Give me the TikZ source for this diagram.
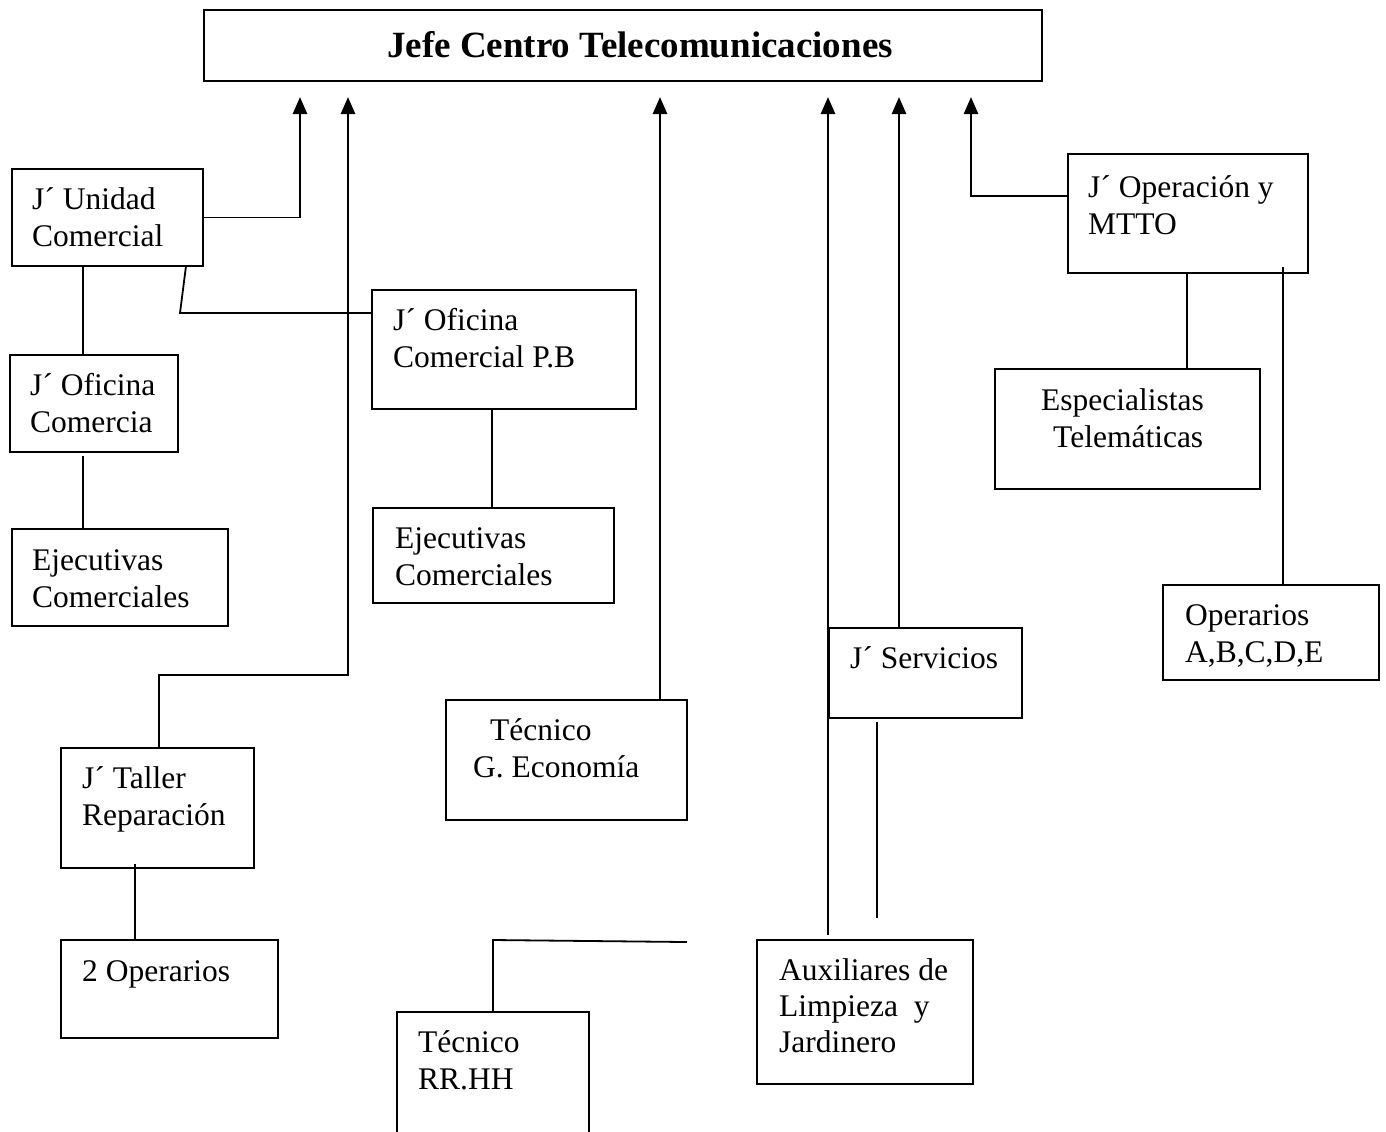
\documentclass[tikz,border=0pt]{standalone}
\usepackage{fontspec}
\setmainfont{Liberation Serif}
\usetikzlibrary{arrows.meta}
% multi-line labels whose reference point is the first baseline
\newcommand\twolines[2]{\vtop{\hbox{#1}\hbox{#2}}}
\newcommand\threelines[3]{\vtop{\hbox{#1}\hbox{#2}\hbox{#3}}}
\begin{document}
\begin{tikzpicture}[x=1bp,y=-1bp,
  orgbox/.style={draw,rectangle,line width=1.8bp,inner sep=0,outer sep=0,anchor=north west},
  lbl/.style={anchor=base west,inner sep=0,font=\fontsize{31.5bp}{37bp}\selectfont},
  conn/.style={line width=1.8bp,line cap=rect},
  up/.style={line width=2.6bp,-{Triangle[width=14bp,length=17bp]}}]
\useasboundingbox (0,0) rectangle (1386,1131);

% ---- boxes
\node[orgbox,minimum width=838bp,minimum height=71bp] (title) at (204,10) {};
\node[orgbox,minimum width=191bp,minimum height=97bp] (unidad) at (12,169) {};
\node[orgbox,minimum width=168bp,minimum height=97bp] (ofcom) at (10,355) {};
\node[orgbox,minimum width=264bp,minimum height=119bp] (pb) at (372,290) {};
\node[orgbox,minimum width=216bp,minimum height=97bp] (ejec1) at (12,529) {};
\node[orgbox,minimum width=241bp,minimum height=95bp] (ejec2) at (373,508) {};
\node[orgbox,minimum width=193bp,minimum height=120bp] (taller) at (61,748) {};
\node[orgbox,minimum width=217bp,minimum height=98bp] (dosop) at (61,940) {};
\node[orgbox,minimum width=241bp,minimum height=120bp] (econ) at (446,700) {};
\node[orgbox,minimum width=192bp,minimum height=140bp] (rrhh) at (397,1012) {};
\node[orgbox,minimum width=193bp,minimum height=90bp] (serv) at (829,628) {};
\node[orgbox,minimum width=216bp,minimum height=144bp] (aux) at (757,940) {};
\node[orgbox,minimum width=240bp,minimum height=119bp] (oper) at (1068,154) {};
\node[orgbox,minimum width=265bp,minimum height=120bp] (espec) at (995,369) {};
\node[orgbox,minimum width=216bp,minimum height=95bp] (opabc) at (1163,585) {};

% ---- labels
\node[anchor=base,inner sep=0,font=\bfseries\fontsize{37bp}{40bp}\selectfont] (title-t) at (640,57) {Jefe Centro Telecomunicaciones};
\node[lbl] (unidad-t) at (32,209) {\twolines{J´ Unidad}{Comercial}};
\node[lbl] (ofcom-t) at (30,395) {\twolines{J´ Oficina}{Comercia}};
\node[lbl] (pb-t) at (393,330) {\twolines{J´ Oficina}{Comercial P.B}};
\node[lbl] (ejec1-t) at (32,570) {\twolines{Ejecutivas}{Comerciales}};
\node[lbl] (ejec2-t) at (395,548) {\twolines{Ejecutivas}{Comerciales}};
\node[lbl] (taller-t) at (82,788) {\twolines{J´ Taller}{Reparación}};
\node[lbl] (dosop-t) at (82,981) {2 Operarios};
\node[lbl] (econ-t) at (473,740) {\twolines{\kern17bp Técnico}{G. Economía}};
\node[lbl] (rrhh-t) at (418,1052) {\twolines{Técnico}{RR.HH}};
\node[lbl] (serv-t) at (850,668) {J´ Servicios};
\node[lbl,font=\fontsize{31.5bp}{36bp}\selectfont] (aux-t) at (779,980) {\threelines{Auxiliares de}{Limpieza\ \ y}{Jardinero}};
\node[lbl] (oper-t) at (1088,197) {\twolines{J´ Operación y}{MTTO}};
\node[lbl] (espec-t) at (1041,410) {\twolines{Especialistas}{\kern12bp Telemáticas}};
\node[lbl] (opabc-t) at (1185,625) {\twolines{Operarios}{A,B,C,D,E}};

% ---- arrow ends below the head box
\coordinate (a1) at (300,97);
\coordinate (a2) at (348,97);
\coordinate (a3) at (660,97);
\coordinate (a4) at (828,97);
\coordinate (a5) at (899,97);
\coordinate (a6) at (971,97);

% ---- reporting lines to the head
\draw[conn] (unidad.east) -- (unidad.east -| a1);
\draw[up] (unidad.east -| a1) -- (a1);
\coordinate (tA) at (159,675);
\draw[conn] (taller.north -| tA) -- (tA) -- (tA -| a2);
\draw[up] (tA -| a2) -- (a2);
\draw[up] (econ.north -| a3) -- (a3);
\coordinate (b4) at (828,935);
\draw[up] (b4) -- (a4);
\draw[up] (serv.north -| a5) -- (a5);
\coordinate (c6) at (971,196);
\draw[conn] ([yshift=-42bp]oper.north west) -- (c6);
\draw[up] (c6) -- (a6);

% ---- internal links
\draw[conn] ([xshift=71bp]unidad.south west) -- ([xshift=73bp]ofcom.north west);
\coordinate (k1) at (180,313);
\draw[conn,line cap=butt] ([xshift=174bp]unidad.south west) -- (k1) -- ([yshift=-23bp]pb.north west);
\draw[conn] ([xshift=73bp,yshift=-5bp]ofcom.south west) -- ([xshift=71bp]ejec1.north west);
\draw[conn] ([xshift=120bp]pb.south west) -- ([xshift=119bp]ejec2.north west);
\draw[conn] ([xshift=119bp]oper.south west) -- ([xshift=192bp]espec.north west);
\draw[conn] ([xshift=215bp,yshift=5bp]oper.south west) -- ([xshift=120bp]opabc.north west);
\draw[conn] ([xshift=74bp,yshift=3bp]taller.south west) -- ([xshift=74bp]dosop.north west);
\coordinate (r1) at (493,940);
\coordinate (r2) at (686,942);
\draw[conn] (rrhh.north -| r1) -- (r1) -- (r2);
\draw[conn] ([xshift=48bp,yshift=-5bp]serv.south west) -- ([xshift=120bp,yshift=23bp]aux.north west);
\end{tikzpicture}
\end{document}
